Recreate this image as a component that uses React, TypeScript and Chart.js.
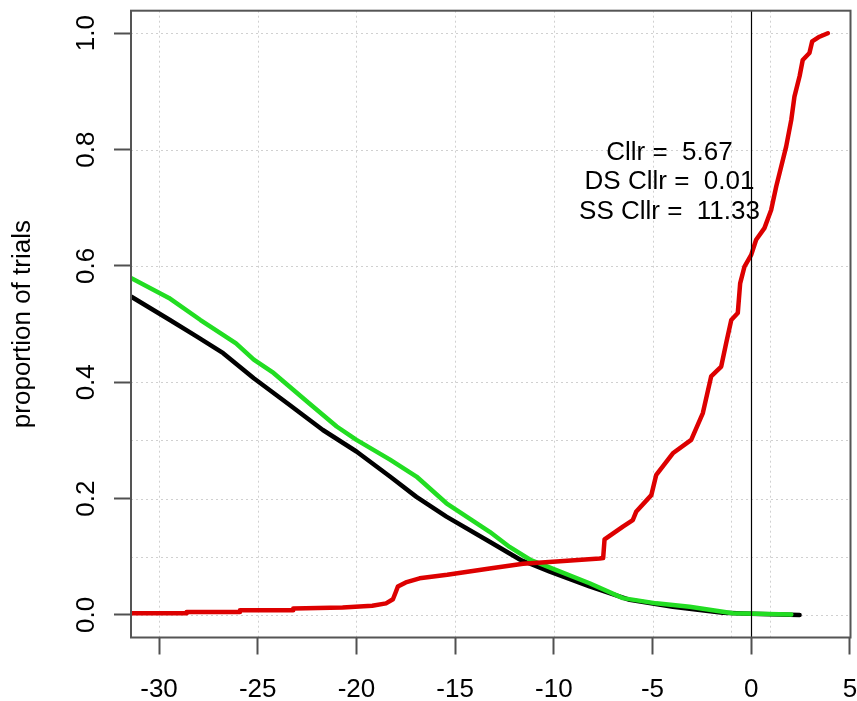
import React, { useEffect, useRef } from "react";
import { Chart, registerables } from "chart.js";

Chart.register(...registerables);

// ---------- data ----------
const xTicks = [-30, -25, -20, -15, -10, -5, 0, 5];
const yTicks = [0, 0.2, 0.4, 0.6, 0.8, 1.0];
const gridX = [-30, -25, -20, -15, -10, -5, -1, 0.93, 5];
const gridY = [0, 0.1, 0.2, 0.3, 0.4, 0.6, 0.8, 1.0];
const zeroLineX = 0;

const redX = [-31.4, -28.6, -28.6, -25.9, -25.9, -23.2, -23.2, -20.7, -19.2, -18.5, -18.15, -18.0, -17.9, -17.5, -16.8, -15.4, -13.25, -11.56, -9.87, -7.68, -7.5, -7.43, -6.5, -6.0, -5.82, -5.06, -4.81, -3.97, -3.04, -2.45, -2.03, -1.52, -1.27, -1.01, -0.68, -0.56, -0.34, 0, 0.25, 0.67, 1.01, 1.27, 1.52, 1.77, 2.03, 2.19, 2.45, 2.61, 2.95, 3.09, 3.46, 3.88];
const redY = [0.003, 0.003, 0.005, 0.005, 0.008, 0.008, 0.011, 0.013, 0.016, 0.02, 0.027, 0.04, 0.049, 0.056, 0.063, 0.069, 0.08, 0.088, 0.092, 0.097, 0.098, 0.13, 0.152, 0.163, 0.178, 0.206, 0.241, 0.278, 0.301, 0.347, 0.41, 0.427, 0.467, 0.507, 0.519, 0.57, 0.599, 0.619, 0.645, 0.665, 0.696, 0.737, 0.771, 0.805, 0.851, 0.891, 0.926, 0.954, 0.966, 0.986, 0.994, 1.0];

const greenX = [-31.4, -29.5, -27.9, -26.1, -25.2, -24.2, -22.4, -21.0, -20.0, -18.3, -16.96, -15.44, -13.25, -12.24, -11.2, -9.87, -8.19, -6.5, -4.81, -3.12, -0.93, 2.03];
const greenY = [0.579, 0.545, 0.507, 0.467, 0.439, 0.416, 0.364, 0.324, 0.301, 0.267, 0.238, 0.192, 0.143, 0.117, 0.095, 0.077, 0.0545, 0.029, 0.02, 0.014, 0.003, 0.001];

const blackX = [-31.4, -29.45, -28.1, -26.75, -25.2, -23.5, -21.7, -20.0, -18.3, -16.96, -15.44, -13.25, -11.7, -10.2, -8.19, -6.16, -3.97, -1.44, 0, 2.45];
const blackY = [0.547, 0.507, 0.479, 0.45, 0.407, 0.364, 0.318, 0.281, 0.238, 0.203, 0.169, 0.126, 0.095, 0.0745, 0.049, 0.026, 0.014, 0.004, 0.002, 0.0];

const statLines = ["Cllr =  5.67", "DS Cllr =  0.01", "SS Cllr =  11.33"];
const statX = -4.14;
const statY = 0.744;
const yTitle = "proportion of trials";

const FONT = '"Liberation Sans", Arial, Helvetica, sans-serif';

function pts(xs: number[], ys: number[]) {
  return xs.map((x, i) => ({ x, y: ys[i] }));
}

function zeroPad(s: any) {
  s.paddingTop = 0;
  s.paddingBottom = 0;
  s.paddingLeft = 0;
  s.paddingRight = 0;
}

const decorPlugin = {
  id: "decor",
  beforeDatasetsDraw(chart: any) {
    const { ctx, chartArea, scales } = chart;
    const xs = scales.x;
    const ys = scales.y;
    ctx.save();
    ctx.strokeStyle = "#d0d0d0";
    ctx.lineWidth = 1;
    ctx.setLineDash([2, 3]);
    gridX.forEach((v) => {
      const px = Math.round(xs.getPixelForValue(v)) + 0.5;
      ctx.beginPath();
      ctx.moveTo(px, chartArea.top);
      ctx.lineTo(px, chartArea.bottom);
      ctx.stroke();
    });
    gridY.forEach((v) => {
      const py = Math.round(ys.getPixelForValue(v)) + 0.5;
      ctx.beginPath();
      ctx.moveTo(chartArea.left, py);
      ctx.lineTo(chartArea.right, py);
      ctx.stroke();
    });
    ctx.restore();
  },
  afterDatasetsDraw(chart: any) {
    const { ctx, chartArea, scales } = chart;
    const xs = scales.x;
    const ys = scales.y;
    ctx.save();
    const zx = Math.round(xs.getPixelForValue(zeroLineX)) + 0.5;
    ctx.strokeStyle = "#000";
    ctx.lineWidth = 1.2;
    ctx.beginPath();
    ctx.moveTo(zx, chartArea.top);
    ctx.lineTo(zx, chartArea.bottom);
    ctx.stroke();
    ctx.strokeStyle = "#555";
    ctx.lineWidth = 2;
    ctx.strokeRect(chartArea.left, chartArea.top, chartArea.right - chartArea.left, chartArea.bottom - chartArea.top);
    ctx.fillStyle = "#000";
    ctx.font = `26px ${FONT}`;
    ctx.textAlign = "center";
    ctx.textBaseline = "middle";
    const cx = xs.getPixelForValue(statX);
    const cy = ys.getPixelForValue(statY);
    const lh = 29.2;
    statLines.forEach((t, i) => {
      ctx.fillText(t, cx, cy + (i - 1) * lh);
    });
    ctx.restore();
  },
};

export default function App() {
  const ref = useRef<HTMLCanvasElement | null>(null);
  useEffect(() => {
    if (!ref.current) return;
    Chart.defaults.font.family = FONT;
    const lineDs = (label: string, data: any, color: string) => ({
      label,
      data,
      borderColor: color,
      borderWidth: 4.5,
      pointRadius: 0,
      tension: 0,
      fill: false,
      borderCapStyle: "round",
      borderJoinStyle: "round",
    });
    const chart = new Chart(ref.current, {
      type: "line",
      data: {
        datasets: [
          lineDs("SS", pts(redX, redY), "#dd0000"),
          lineDs("DS", pts(greenX, greenY), "#22dd22"),
          lineDs("All", pts(blackX, blackY), "#000000"),
        ],
      },
      options: {
        animation: false,
        responsive: false,
        devicePixelRatio: 1,
        layout: { padding: { left: 0, top: 10.7, right: 6.5, bottom: 0 } },
        plugins: {
          legend: { display: false },
          tooltip: { enabled: false },
        },
        scales: {
          x: {
            type: "linear",
            min: -31.42,
            max: 5.03,
            afterBuildTicks: (s: any) => {
              s.ticks = xTicks.map((v) => ({ value: v }));
            },
            afterFit: (s: any) => {
              s.height = 63.5;
              zeroPad(s);
            },
            ticks: {
              autoSkip: false,
              maxRotation: 0,
              minRotation: 0,
              padding: 19.4,
              color: "#000",
              font: { size: 26, family: FONT },
              callback: (v: any) => String(v),
            },
            grid: {
              drawOnChartArea: false,
              drawTicks: true,
              tickLength: 17,
              tickColor: "#505050",
              tickWidth: 2,
            },
            border: { display: false },
          },
          y: {
            type: "linear",
            min: -0.0387,
            max: 1.0387,
            afterBuildTicks: (s: any) => {
              s.ticks = yTicks.map((v) => ({ value: v }));
            },
            afterFit: (s: any) => {
              s.width = 131;
              zeroPad(s);
            },
            ticks: {
              autoSkip: false,
              minRotation: 90,
              maxRotation: 90,
              crossAlign: "center",
              padding: 9.4,
              color: "#000",
              font: { size: 26, family: FONT },
              callback: (v: any) => Number(v).toFixed(1),
            },
            title: {
              display: true,
              text: yTitle,
              color: "#000",
              font: { size: 26, family: FONT },
              padding: { top: 7.1, bottom: 0 },
            },
            grid: {
              drawOnChartArea: false,
              drawTicks: true,
              tickLength: 17,
              tickColor: "#505050",
              tickWidth: 2,
            },
            border: { display: false },
          },
        },
      },
      plugins: [decorPlugin],
    } as any);
    return () => chart.destroy();
  }, []);
  return (
    <div style={{ position: "absolute", left: 0, top: 0, width: 857, height: 701, background: "#fff" }}>
      <canvas ref={ref} width={857} height={701} style={{ display: "block", width: 857, height: 701 }} />
    </div>
  );
}
